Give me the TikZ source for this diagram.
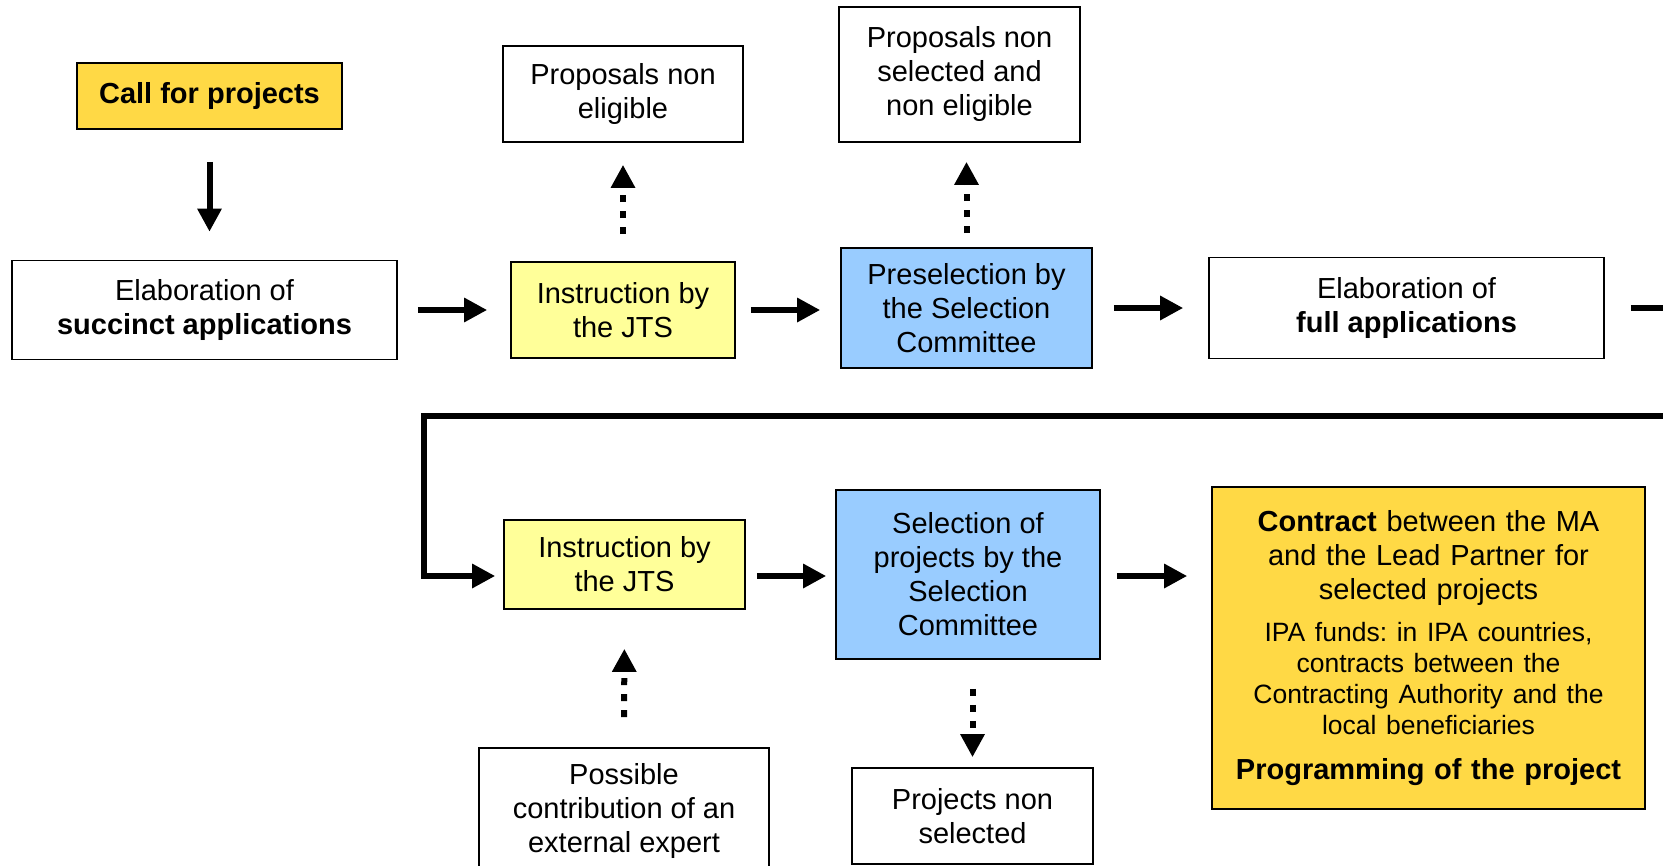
\documentclass[tikz,border=0pt]{standalone}
\usepackage{fontspec}
\setmainfont{Liberation Sans}
\usetikzlibrary{positioning, arrows.meta}

\definecolor{goldfill}{HTML}{FFD945}
\definecolor{jtsfill}{HTML}{FFFF99}
\definecolor{commfill}{HTML}{99CCFF}

\begin{document}
\frenchspacing
\begin{tikzpicture}[
				x=0.5pt, y=-0.5pt,
				box/.style={draw=black, line width=0.8pt, align=center, inner sep=2pt, font=\fontsize{14.5}{17}\selectfont},
				whitebox/.style={box, fill=white},
				jtsbox/.style={box, fill=jtsfill},
				commbox/.style={box, fill=commfill},
				goldbox/.style={box, fill=goldfill},
				flow/.style={line width=3pt, -{Triangle[width=11.5pt, length=11.5pt]}},
				dotflow/.style={flow, dash pattern=on 3.5pt off 4.5pt}
			]

			\useasboundingbox (0,0) rectangle (1663,866);

			% first round
			\node[goldbox, minimum width=132.5pt, minimum height=33pt] (call) at (209.5, 96) {\bfseries Call for projects};
			\node[whitebox, minimum width=192.5pt, minimum height=49.5pt] (elab1) at (204.5, 310) {Elaboration of\\\bfseries succinct applications};
			\node[jtsbox, minimum width=112pt, minimum height=48pt] (instr1) at (623, 310) {Instruction by\\the JTS};
			\node[whitebox, minimum width=120pt, minimum height=48pt] (nonelig) at (623, 94) {Proposals non\\eligible};
			\node[commbox, minimum width=125.5pt, minimum height=60pt] (presel) at (966.5, 308) {Preselection by\\the Selection\\Committee};
			\node[whitebox, minimum width=120.5pt, minimum height=67.5pt] (nonsel1) at (959.5, 74.5) {Proposals non\\selected and\\non eligible};
			\node[whitebox, minimum width=197.5pt, minimum height=50.5pt] (elab2) at (1406.5, 308) {Elaboration of\\\bfseries full applications};

			% second round
			\node[jtsbox, minimum width=120.5pt, minimum height=44.5pt] (instr2) at (624.5, 564.5) {Instruction by\\the JTS};
			\node[whitebox, minimum width=145pt, minimum height=63pt] (expert) at (624, 811) {Possible\\contribution of an\\external expert};
			\node[commbox, minimum width=132pt, minimum height=84.5pt] (selproj) at (968, 574.5) {Selection of\\projects by the\\Selection\\Committee};
			\node[whitebox, minimum width=120.5pt, minimum height=48pt] (nonsel2) at (972.5, 816) {Projects non\\selected};
			\node[goldbox, minimum width=216.5pt, minimum height=161pt, text width=206pt] (contract) at (1428.5, 648) {%
				{\bfseries Contract} between the MA\\and the Lead Partner for\\selected projects\par
				\vspace{5.5pt}
				{\fontsize{13.25}{15.5}\selectfont IPA funds: in IPA countries,\\contracts between the\\Contracting Authority and the\\local beneficiaries\par}
				\vspace{5.5pt}
				{\bfseries Programming of the project}\par
				\vspace*{4pt}};

			\coordinate (loop) at (424, 416);
			\coordinate (row2) at (0, 576);

			% connectors
			\draw[flow, shorten <=16pt, shorten >=14pt] (call.south) -- (call.south |- elab1.north);
			\draw[flow, shorten <=10pt, shorten >=11.5pt] (elab1.east) -- (elab1.east -| instr1.west);
			\draw[flow, shorten <=7.5pt, shorten >=10pt] (instr1.east) -- (instr1.east -| presel.west);
			\draw[flow, shorten <=10.5pt, shorten >=12.5pt] (presel.east) -- (presel.east -| elab2.west);
			\draw[dotflow, shorten <=13.5pt, shorten >=11pt] (instr1.north) -- (nonelig.south);
			\draw[dotflow, shorten <=7pt, shorten >=9.5pt] (presel.north) -- (presel.north |- nonsel1.south);

			\draw[flow, shorten >=4pt] ([xshift=13pt]elab2.east) -- ++(120,0) |- (loop) |- (instr2.west |- row2);

			\draw[flow, shorten <=5.5pt, shorten >=4.5pt] (instr2.east |- row2) -- (selproj.west |- row2);
			\draw[flow, shorten <=8pt, shorten >=12pt] (selproj.east |- row2) -- (contract.west |- row2);
			\draw[dotflow, shorten <=15pt, shorten >=19.5pt] (expert.north) -- (instr2.south);
			\draw[dotflow, shorten <=14.5pt, shorten >=5pt] (nonsel2.north |- selproj.south) -- (nonsel2.north);

		\end{tikzpicture}
\end{document}
